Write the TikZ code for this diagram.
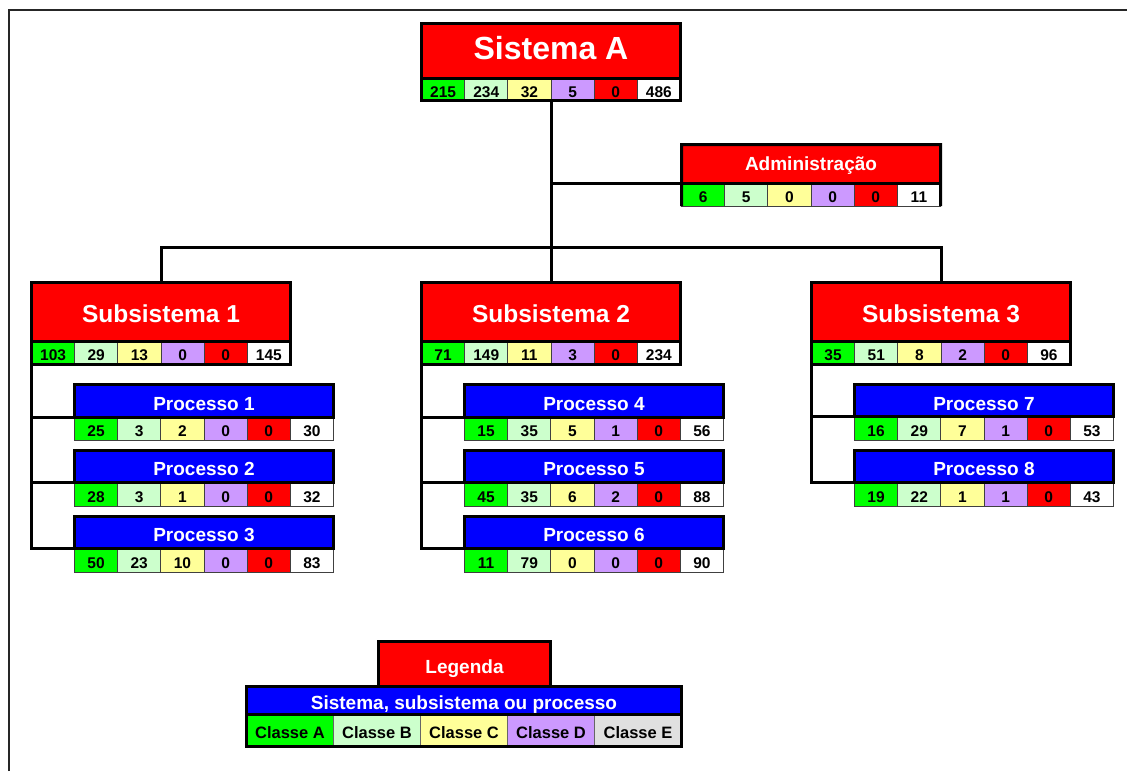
\documentclass[tikz,border=0pt]{standalone}
\usepackage{fontspec}
\setmainfont{Liberation Sans}

% class colours, in column order
\definecolor{cell1}{HTML}{00FF00}
\definecolor{cell2}{HTML}{CCFFCC}
\definecolor{cell3}{HTML}{FFFF99}
\definecolor{cell4}{HTML}{CC99FF}
\definecolor{cell5}{HTML}{FF0000}
\definecolor{cell6}{HTML}{FFFFFF}
\definecolor{classE}{HTML}{E0E0E0}
\definecolor{hdrred}{HTML}{FF0000}
\definecolor{hdrblue}{HTML}{0000FF}

\tikzset{
  hdr/.style={rectangle, inner sep=0pt, outer sep=0pt, minimum width=259pt,
              text=white, anchor=north west},
  cell/.style={rectangle, draw=black!75, line width=0.8pt, inner sep=0pt, outer sep=0pt,
               minimum width=43.1667pt, text=black, anchor=north west,
               font=\bfseries\fontsize{15.5}{15.5}\selectfont,
               text height=16.1pt, text depth=0pt},
  legcell/.style={rectangle, draw=black!60, line width=1.5pt, inner sep=0pt, outer sep=0pt,
               minimum width=87pt, minimum height=32pt, text=black, anchor=north west,
               font=\bfseries\fontsize{16.5}{16.5}\selectfont,
               text height=16.8pt, text depth=0pt},
  heavy/.style={draw=black, line width=3pt},
  conn/.style={draw=black, line width=3pt, line cap=rect},
  frameline/.style={draw=black!85, line width=2pt},
  bigfont/.style={font=\bfseries\fontsize{32}{32}\selectfont,
                  text height=16.9pt, text depth=0pt},
  subfont/.style={font=\bfseries\fontsize{24.5}{24.5}\selectfont,
                  text height=20.5pt, text depth=0pt},
  smallfont/.style={font=\bfseries\fontsize{19}{19}\selectfont,
                  text height=19.6pt, text depth=0pt},
}

% row of six numbered cells under header node #1, row height #2
\newcommand{\numrow}[3]{%
  \foreach \v [count=\i] in {#3} {%
    \node[cell, fill=cell\i, minimum height=#2pt,
          xshift={(\i-1)*43.1667pt}] (#1-\i) at (#1.south west) {\v};
  }%
}
% system / subsystem block: header and row framed heavily
\newcommand{\fullframe}[1]{%
  \draw[heavy] (#1.north west) rectangle (#1-6.south east);
  \draw[heavy] (#1.south west) -- (#1.south east);
}
% process block: only the header framed heavily
\newcommand{\headframe}[1]{%
  \draw[heavy] (#1.north west) rectangle (#1.south east);
}

\begin{document}
\begin{tikzpicture}[x=1pt, y=-1pt]
\useasboundingbox (0,0) rectangle (1127,771);
\fill[white] (0,0) rectangle (1127,771);

% page frame
\draw[frameline] (8.5,771) -- (8.5,10) -- (1127,10);

% ---- top level ----
\node[hdr, fill=hdrred, minimum height=54.5pt, bigfont] (sysA) at (421.5,23.5) {Sistema A};
\numrow{sysA}{22.5}{215,234,32,5,0,486}

\node[hdr, fill=hdrred, minimum height=38.5pt, smallfont, text height=13.6pt] (adm) at (681.5,144.5) {Administração};
\numrow{adm}{23}{6,5,0,0,0,11}

% ---- subsystems ----
\node[hdr, fill=hdrred, minimum height=58.5pt, subfont] (sub1) at (31.5,282.5) {Subsistema 1};
\numrow{sub1}{23.5}{103,29,13,0,0,145}
\node[hdr, fill=hdrred, minimum height=58.5pt, subfont] (sub2) at (421.5,282.5) {Subsistema 2};
\numrow{sub2}{23.5}{71,149,11,3,0,234}
\node[hdr, fill=hdrred, minimum height=58.5pt, subfont] (sub3) at (811.5,282.5) {Subsistema 3};
\numrow{sub3}{23.5}{35,51,8,2,0,96}

% ---- processes ----
\node[hdr, fill=hdrblue, minimum height=32.5pt, smallfont] (p1) at (74.5,384.5) {Processo 1};
\numrow{p1}{23.5}{25,3,2,0,0,30}
\node[hdr, fill=hdrblue, minimum height=32pt, smallfont] (p2) at (74.5,450) {Processo 2};
\numrow{p2}{24}{28,3,1,0,0,32}
\node[hdr, fill=hdrblue, minimum height=32pt, smallfont] (p3) at (74.5,516) {Processo 3};
\numrow{p3}{24}{50,23,10,0,0,83}

\node[hdr, fill=hdrblue, minimum height=32.5pt, smallfont] (p4) at (464.5,384.5) {Processo 4};
\numrow{p4}{23.5}{15,35,5,1,0,56}
\node[hdr, fill=hdrblue, minimum height=32pt, smallfont] (p5) at (464.5,450) {Processo 5};
\numrow{p5}{24}{45,35,6,2,0,88}
\node[hdr, fill=hdrblue, minimum height=32pt, smallfont] (p6) at (464.5,516) {Processo 6};
\numrow{p6}{24}{11,79,0,0,0,90}

\node[hdr, fill=hdrblue, minimum height=32pt, smallfont] (p7) at (854.5,384.5) {Processo 7};
\numrow{p7}{24}{16,29,7,1,0,53}
\node[hdr, fill=hdrblue, minimum height=32pt, smallfont] (p8) at (854.5,450) {Processo 8};
\numrow{p8}{24}{19,22,1,1,0,43}

% ---- connectors ----
\coordinate (bus) at (551,247);
\draw[conn] (sysA-3.south east) -- (sysA-3.south east |- sub2.north);
\draw[conn] (sysA-3.south east |- adm.south west) -- (adm.south west);
\draw[conn] (sub1.north) -- (sub1.north |- bus) -- (sub3.north |- bus) -- (sub3.north);

\draw[conn] (sub1-1.south west) -- (sub1-1.south west |- p3.south);
\foreach \p in {p1,p2,p3} \draw[conn] (sub1-1.south west |- \p.south) -- (\p.south west);
\draw[conn] (sub2-1.south west) -- (sub2-1.south west |- p6.south);
\foreach \p in {p4,p5,p6} \draw[conn] (sub2-1.south west |- \p.south) -- (\p.south west);
\draw[conn] (sub3-1.south west) -- (sub3-1.south west |- p8.south);
\foreach \p in {p7,p8} \draw[conn] (sub3-1.south west |- \p.south) -- (\p.south west);

% ---- heavy outlines ----
\fullframe{sysA}
\fullframe{sub1}
\fullframe{sub2}
\fullframe{sub3}
\draw[heavy] (adm-1.south west) -- (adm.north west) -- (adm.north east) -- (adm-6.south east);
\draw[heavy] (adm.south west) -- (adm.south east);
\foreach \p in {p1,p2,p3,p4,p5,p6,p7,p8} {\headframe{\p}}

% ---- legend ----
\node[rectangle, fill=hdrred, heavy, inner sep=0pt, outer sep=0pt, text=white,
      minimum width=172pt, minimum height=44.5pt, anchor=north west, smallfont]
      (leg) at (378.5,641.5) {Legenda};
\node[rectangle, fill=hdrblue, inner sep=0pt, outer sep=0pt, text=white,
      minimum width=435pt, minimum height=28pt, anchor=north west, smallfont]
      (legbar) at (246.5,686) {Sistema, subsistema ou processo};
\foreach \t/\c [count=\i] in {Classe A/cell1, Classe B/cell2, Classe C/cell3, Classe D/cell4, Classe E/classE}
  \node[legcell, fill=\c, xshift={(\i-1)*87pt}] (cls\i) at (legbar.south west) {\t};
\draw[heavy] (legbar.north west) rectangle (cls5.south east);
\draw[heavy] (legbar.south west) -- (legbar.south east);
\draw[heavy] (leg.north west) rectangle (leg.south east);
\end{tikzpicture}
\end{document}
